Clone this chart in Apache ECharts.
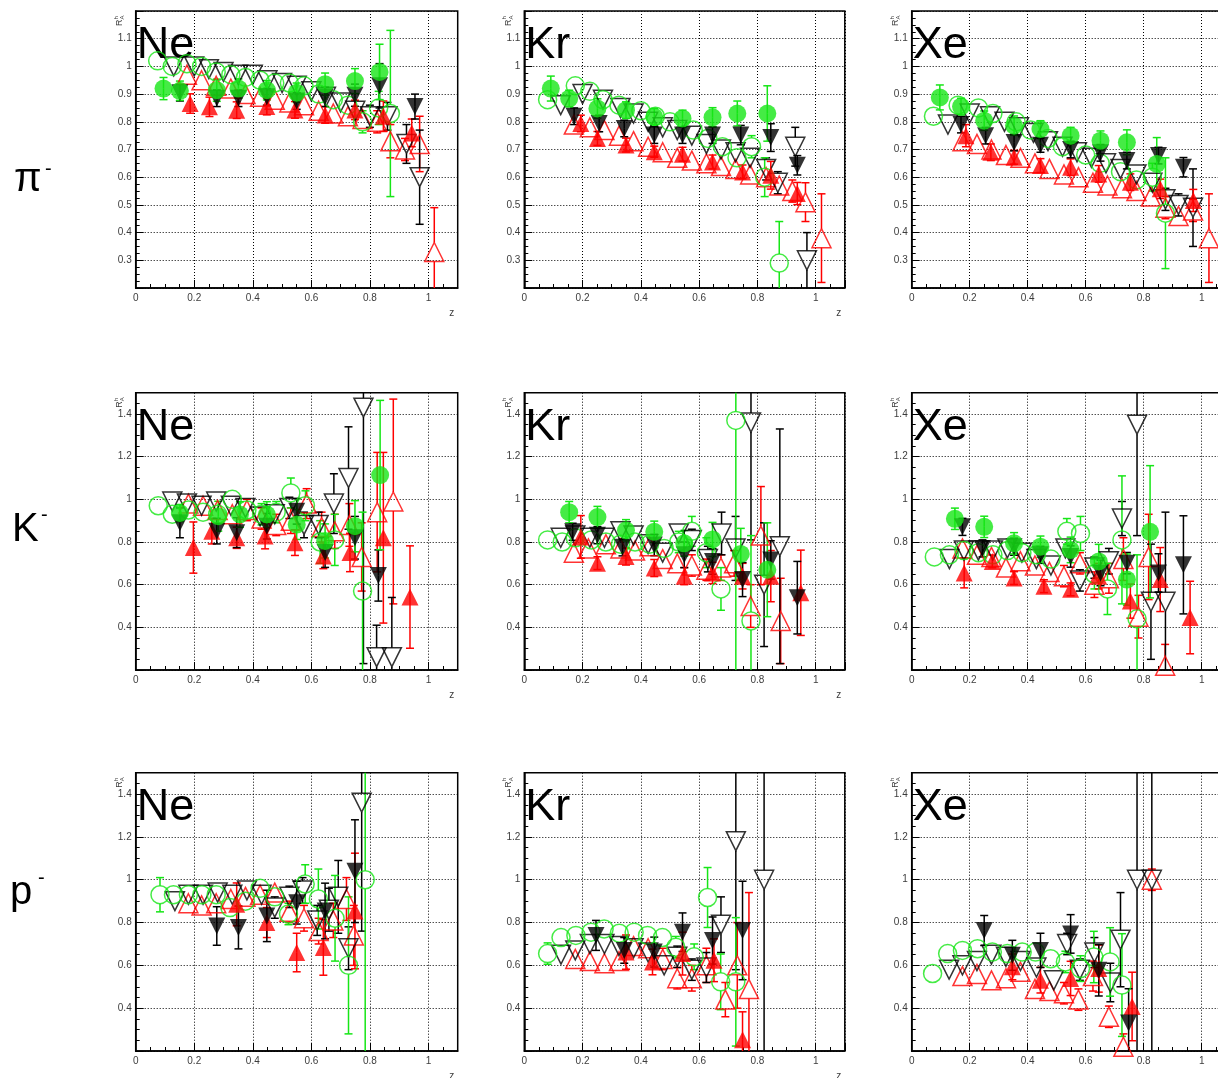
<!DOCTYPE html>
<html>
<head>
<meta charset="utf-8">
<script src="https://cdn.jsdelivr.net/npm/echarts@6/dist/echarts.min.js"></script>
<style>
  html, body { margin: 0; padding: 0; background: #fff; }
  #main { width: 1218px; height: 1078px; }
</style>
</head>
<body>
<div id="main"></div>
<script>
// Each point is [z, R, error on R].

// ---- pi-, Ne ----
const piNeGreenFilled = [[0.095,0.92,0.04],[0.151,0.912,0.035],[0.277,0.914,0.04],[0.351,0.92,0.035],[0.448,0.914,0.035],[0.55,0.905,0.035],[0.647,0.936,0.04],[0.749,0.947,0.045],[0.833,0.98,0.1]];
const piNeGreenOpen = [[0.075,1.02,0.02],[0.125,1.0,0.02],[0.175,1.01,0.02],[0.225,1.0,0.02],[0.275,0.98,0.02],[0.325,0.97,0.02],[0.375,0.96,0.02],[0.425,0.95,0.02],[0.475,0.94,0.02],[0.525,0.94,0.02],[0.575,0.93,0.02],[0.625,0.9,0.02],[0.675,0.88,0.03],[0.725,0.86,0.03],[0.775,0.8,0.04],[0.83,0.85,0.06],[0.87,0.83,0.3]];
const piNeBlackFilled = [[0.151,0.905,0.03],[0.277,0.885,0.03],[0.351,0.885,0.03],[0.448,0.89,0.03],[0.55,0.875,0.03],[0.647,0.89,0.035],[0.749,0.896,0.04],[0.833,0.93,0.08],[0.954,0.855,0.045]];
const piNeBlackOpen = [[0.13,1.0,0.02],[0.2,1.0,0.02],[0.25,0.99,0.02],[0.3,0.98,0.02],[0.35,0.97,0.02],[0.4,0.97,0.02],[0.45,0.95,0.02],[0.5,0.94,0.02],[0.55,0.93,0.02],[0.6,0.91,0.02],[0.65,0.89,0.03],[0.7,0.87,0.03],[0.75,0.84,0.03],[0.8,0.82,0.04],[0.86,0.82,0.05],[0.925,0.72,0.07],[0.97,0.6,0.17]];
const piNeRedFilled = [[0.186,0.866,0.035],[0.252,0.854,0.035],[0.345,0.842,0.03],[0.448,0.855,0.03],[0.544,0.843,0.03],[0.647,0.825,0.03],[0.749,0.843,0.035],[0.846,0.82,0.055],[0.943,0.76,0.05]];
const piNeRedOpen = [[0.175,0.97,0.03],[0.225,0.95,0.03],[0.275,0.93,0.02],[0.325,0.92,0.02],[0.375,0.9,0.02],[0.425,0.89,0.02],[0.475,0.88,0.02],[0.525,0.87,0.02],[0.575,0.86,0.02],[0.625,0.84,0.02],[0.675,0.83,0.02],[0.725,0.82,0.03],[0.775,0.81,0.03],[0.825,0.8,0.04],[0.87,0.73,0.06],[0.92,0.7,0.04],[0.97,0.72,0.1],[1.02,0.33,0.16]];

// ---- pi-, Kr ----
const piKrGreenFilled = [[0.091,0.92,0.045],[0.154,0.884,0.03],[0.251,0.848,0.035],[0.349,0.842,0.03],[0.446,0.818,0.03],[0.543,0.812,0.03],[0.646,0.816,0.035],[0.731,0.83,0.045],[0.834,0.83,0.1]];
const piKrGreenOpen = [[0.08,0.88,0.03],[0.175,0.93,0.02],[0.225,0.91,0.02],[0.27,0.88,0.02],[0.325,0.86,0.02],[0.4,0.84,0.02],[0.45,0.82,0.02],[0.5,0.8,0.02],[0.58,0.77,0.02],[0.63,0.74,0.02],[0.68,0.71,0.03],[0.73,0.67,0.03],[0.78,0.71,0.04],[0.825,0.6,0.07],[0.875,0.29,0.15]];
const piKrBlackFilled = [[0.171,0.82,0.03],[0.257,0.794,0.03],[0.343,0.776,0.03],[0.446,0.752,0.03],[0.543,0.752,0.03],[0.646,0.752,0.03],[0.743,0.752,0.035],[0.846,0.743,0.05],[0.937,0.643,0.035]];
const piKrBlackOpen = [[0.125,0.86,0.02],[0.2,0.9,0.02],[0.27,0.88,0.02],[0.33,0.85,0.02],[0.375,0.83,0.02],[0.425,0.8,0.02],[0.475,0.78,0.02],[0.525,0.77,0.02],[0.575,0.75,0.02],[0.625,0.72,0.02],[0.675,0.7,0.02],[0.725,0.69,0.03],[0.775,0.67,0.03],[0.83,0.63,0.04],[0.87,0.58,0.04],[0.93,0.71,0.07],[0.97,0.3,0.1]];
const piKrRedFilled = [[0.194,0.794,0.03],[0.251,0.74,0.025],[0.349,0.716,0.025],[0.446,0.692,0.02],[0.543,0.683,0.025],[0.646,0.655,0.025],[0.749,0.619,0.025],[0.846,0.607,0.05],[0.937,0.541,0.04]];
const piKrRedOpen = [[0.17,0.79,0.02],[0.225,0.78,0.02],[0.275,0.77,0.02],[0.325,0.75,0.02],[0.375,0.73,0.02],[0.425,0.71,0.02],[0.475,0.69,0.02],[0.525,0.67,0.02],[0.575,0.66,0.02],[0.625,0.65,0.02],[0.675,0.64,0.02],[0.725,0.63,0.02],[0.775,0.61,0.02],[0.83,0.6,0.03],[0.875,0.57,0.03],[0.92,0.55,0.04],[0.965,0.51,0.07],[1.02,0.38,0.16]];

// ---- pi-, Xe ----
const piXeGreenFilled = [[0.097,0.888,0.045],[0.17,0.855,0.03],[0.25,0.804,0.035],[0.353,0.786,0.035],[0.444,0.774,0.03],[0.548,0.75,0.03],[0.651,0.732,0.035],[0.742,0.726,0.045],[0.845,0.648,0.095]];
const piXeGreenOpen = [[0.075,0.82,0.02],[0.16,0.86,0.02],[0.23,0.85,0.02],[0.28,0.83,0.02],[0.36,0.8,0.02],[0.41,0.77,0.02],[0.47,0.74,0.02],[0.52,0.71,0.02],[0.6,0.68,0.02],[0.65,0.65,0.02],[0.72,0.62,0.03],[0.775,0.59,0.03],[0.83,0.6,0.05],[0.875,0.47,0.2]];
const piXeBlackFilled = [[0.17,0.79,0.03],[0.255,0.75,0.03],[0.353,0.725,0.03],[0.444,0.715,0.025],[0.548,0.7,0.03],[0.651,0.688,0.03],[0.742,0.66,0.03],[0.851,0.678,0.03],[0.937,0.636,0.035]];
const piXeBlackOpen = [[0.125,0.79,0.02],[0.2,0.83,0.02],[0.27,0.82,0.02],[0.32,0.8,0.02],[0.37,0.78,0.02],[0.42,0.76,0.02],[0.47,0.73,0.02],[0.52,0.71,0.02],[0.57,0.69,0.02],[0.62,0.67,0.02],[0.67,0.65,0.02],[0.72,0.63,0.02],[0.775,0.61,0.02],[0.83,0.58,0.03],[0.875,0.52,0.04],[0.92,0.5,0.04],[0.97,0.49,0.14]];
const piXeRedFilled = [[0.187,0.75,0.04],[0.273,0.69,0.03],[0.353,0.672,0.025],[0.444,0.642,0.025],[0.548,0.636,0.03],[0.645,0.612,0.03],[0.754,0.582,0.03],[0.857,0.558,0.035],[0.971,0.516,0.04]];
const piXeRedOpen = [[0.175,0.73,0.02],[0.225,0.72,0.02],[0.275,0.7,0.02],[0.325,0.68,0.02],[0.375,0.67,0.02],[0.425,0.65,0.02],[0.475,0.63,0.02],[0.525,0.61,0.02],[0.575,0.6,0.02],[0.625,0.58,0.02],[0.675,0.57,0.02],[0.725,0.56,0.02],[0.775,0.55,0.02],[0.825,0.53,0.03],[0.875,0.49,0.04],[0.92,0.46,0.03],[0.97,0.48,0.04],[1.025,0.38,0.16]];

// ---- K-, Ne ----
const kNeGreenFilled = [[0.151,0.936,0.04],[0.282,0.921,0.07],[0.356,0.929,0.06],[0.448,0.929,0.06],[0.55,0.882,0.07],[0.647,0.805,0.08],[0.749,0.874,0.12],[0.835,1.114,0.35]];
const kNeGreenOpen = [[0.077,0.97,0.03],[0.125,0.93,0.03],[0.18,0.95,0.03],[0.23,0.94,0.03],[0.28,0.93,0.03],[0.33,1.0,0.04],[0.38,0.95,0.04],[0.43,0.93,0.05],[0.48,0.94,0.05],[0.53,1.03,0.07],[0.58,0.97,0.07],[0.63,0.8,0.1],[0.68,0.81,0.12],[0.775,0.57,0.37]];
const kNeBlackFilled = [[0.151,0.89,0.07],[0.277,0.851,0.06],[0.345,0.844,0.07],[0.448,0.874,0.06],[0.55,0.944,0.06],[0.647,0.751,0.07],[0.749,0.82,0.1],[0.829,0.643,0.12]];
const kNeBlackOpen = [[0.125,0.99,0.02],[0.175,0.98,0.02],[0.225,0.97,0.02],[0.275,0.99,0.03],[0.325,0.97,0.03],[0.375,0.96,0.03],[0.425,0.92,0.04],[0.475,0.93,0.04],[0.525,0.96,0.05],[0.575,0.88,0.06],[0.625,0.88,0.06],[0.677,0.98,0.14],[0.727,1.1,0.24],[0.778,1.43,1.2],[0.823,0.26,0.15],[0.875,0.26,0.28]];
const kNeRedFilled = [[0.197,0.774,0.12],[0.26,0.851,0.06],[0.345,0.82,0.05],[0.442,0.828,0.06],[0.544,0.797,0.06],[0.641,0.735,0.06],[0.732,0.751,0.09],[0.846,0.82,0.4],[0.937,0.542,0.24]];
const kNeRedOpen = [[0.18,0.98,0.04],[0.23,0.97,0.04],[0.28,0.95,0.04],[0.33,0.93,0.04],[0.38,0.95,0.05],[0.43,0.91,0.05],[0.48,0.88,0.05],[0.53,0.9,0.06],[0.584,0.98,0.07],[0.635,0.87,0.07],[0.68,0.85,0.08],[0.73,0.88,0.1],[0.772,0.73,0.16],[0.825,0.94,0.28],[0.88,0.99,0.48]];

// ---- K-, Kr ----
const kKrGreenFilled = [[0.154,0.94,0.05],[0.251,0.917,0.05],[0.349,0.855,0.05],[0.446,0.848,0.05],[0.549,0.794,0.06],[0.646,0.812,0.08],[0.743,0.744,0.12],[0.834,0.67,0.22]];
const kKrGreenOpen = [[0.08,0.81,0.02],[0.13,0.8,0.02],[0.175,0.82,0.03],[0.23,0.81,0.03],[0.28,0.8,0.03],[0.33,0.79,0.03],[0.38,0.8,0.03],[0.43,0.79,0.04],[0.48,0.77,0.04],[0.53,0.8,0.05],[0.575,0.85,0.07],[0.625,0.75,0.07],[0.675,0.58,0.1],[0.726,1.37,1.2],[0.778,0.43,0.4]];
const kKrBlackFilled = [[0.166,0.848,0.04],[0.251,0.832,0.04],[0.337,0.775,0.04],[0.446,0.786,0.05],[0.549,0.74,0.06],[0.646,0.709,0.06],[0.749,0.624,0.08],[0.846,0.716,0.09],[0.937,0.539,0.17]];
const kKrBlackOpen = [[0.125,0.82,0.02],[0.175,0.83,0.02],[0.225,0.82,0.02],[0.275,0.82,0.03],[0.33,0.85,0.03],[0.375,0.83,0.03],[0.425,0.79,0.03],[0.475,0.75,0.04],[0.53,0.84,0.04],[0.575,0.81,0.05],[0.63,0.72,0.06],[0.677,0.84,0.1],[0.725,0.77,0.15],[0.778,1.36,0.55],[0.823,0.6,0.29],[0.877,0.78,0.55]];
const kKrRedFilled = [[0.194,0.824,0.1],[0.251,0.701,0.03],[0.349,0.732,0.04],[0.446,0.678,0.04],[0.549,0.64,0.04],[0.646,0.655,0.05],[0.749,0.64,0.06],[0.846,0.64,0.12],[0.949,0.562,0.2]];
const kKrRedOpen = [[0.17,0.75,0.03],[0.22,0.77,0.03],[0.28,0.79,0.03],[0.33,0.77,0.03],[0.38,0.76,0.03],[0.43,0.78,0.03],[0.475,0.72,0.04],[0.525,0.7,0.04],[0.575,0.69,0.05],[0.625,0.67,0.05],[0.675,0.68,0.06],[0.72,0.7,0.06],[0.777,0.5,0.1],[0.812,0.83,0.23],[0.88,0.43,0.2]];

// ---- K-, Xe ----
const kXeGreenFilled = [[0.149,0.909,0.05],[0.25,0.871,0.05],[0.353,0.794,0.05],[0.444,0.778,0.05],[0.548,0.763,0.06],[0.645,0.709,0.08],[0.742,0.624,0.12],[0.822,0.848,0.31]];
const kXeGreenOpen = [[0.078,0.73,0.02],[0.13,0.74,0.02],[0.18,0.76,0.03],[0.23,0.75,0.03],[0.28,0.74,0.03],[0.33,0.76,0.03],[0.38,0.75,0.03],[0.43,0.74,0.04],[0.48,0.72,0.04],[0.535,0.85,0.06],[0.582,0.84,0.08],[0.63,0.65,0.07],[0.675,0.58,0.12],[0.725,0.81,0.3],[0.777,0.44,0.3]];
const kXeBlackFilled = [[0.175,0.871,0.04],[0.244,0.77,0.04],[0.353,0.778,0.04],[0.444,0.74,0.04],[0.548,0.732,0.05],[0.651,0.655,0.06],[0.742,0.701,0.05],[0.851,0.655,0.09],[0.937,0.693,0.23]];
const kXeBlackOpen = [[0.13,0.72,0.02],[0.18,0.76,0.02],[0.23,0.76,0.03],[0.28,0.76,0.03],[0.33,0.77,0.03],[0.38,0.75,0.03],[0.43,0.72,0.03],[0.48,0.69,0.04],[0.53,0.77,0.04],[0.58,0.62,0.05],[0.63,0.68,0.05],[0.68,0.71,0.06],[0.725,0.91,0.08],[0.777,1.35,0.52],[0.825,0.52,0.27],[0.875,0.52,0.42]];
const kXeRedFilled = [[0.181,0.655,0.07],[0.278,0.709,0.03],[0.353,0.631,0.03],[0.456,0.593,0.03],[0.548,0.578,0.03],[0.645,0.64,0.06],[0.754,0.523,0.08],[0.857,0.624,0.15],[0.96,0.446,0.17]];
const kXeRedOpen = [[0.175,0.77,0.03],[0.225,0.74,0.03],[0.275,0.73,0.03],[0.325,0.68,0.03],[0.375,0.71,0.04],[0.425,0.69,0.04],[0.475,0.66,0.04],[0.525,0.64,0.05],[0.58,0.7,0.05],[0.63,0.6,0.06],[0.68,0.63,0.07],[0.73,0.72,0.1],[0.782,0.45,0.1],[0.817,0.73,0.2],[0.874,0.22,0.1]];

// ---- p-, Ne ----
const pNeGreenOpen = [[0.083,0.93,0.08],[0.129,0.93,0.03],[0.18,0.93,0.03],[0.226,0.93,0.03],[0.275,0.93,0.03],[0.322,0.87,0.03],[0.375,0.9,0.04],[0.425,0.96,0.04],[0.475,0.92,0.04],[0.522,0.84,0.05],[0.579,0.98,0.09],[0.624,0.91,0.14],[0.681,0.82,0.2],[0.727,0.6,0.32],[0.784,1.0,1.0]];
const pNeBlackFilled = [[0.277,0.784,0.09],[0.351,0.777,0.1],[0.448,0.831,0.12],[0.55,0.893,0.1],[0.647,0.854,0.13],[0.749,1.04,0.24]];
const pNeBlackOpen = [[0.134,0.9,0.03],[0.18,0.93,0.03],[0.23,0.93,0.03],[0.28,0.94,0.03],[0.33,0.93,0.04],[0.38,0.95,0.04],[0.43,0.93,0.04],[0.475,0.87,0.05],[0.525,0.92,0.05],[0.57,0.95,0.06],[0.62,0.81,0.07],[0.66,0.86,0.1],[0.692,0.92,0.17],[0.727,0.68,0.1],[0.772,1.36,0.6]];
const pNeRedFilled = [[0.345,0.885,0.1],[0.448,0.8,0.07],[0.55,0.66,0.09],[0.641,0.684,0.13],[0.749,0.854,0.27]];
const pNeRedOpen = [[0.18,0.89,0.04],[0.225,0.88,0.03],[0.275,0.89,0.03],[0.325,0.91,0.03],[0.375,0.92,0.04],[0.425,0.93,0.04],[0.475,0.94,0.04],[0.525,0.85,0.05],[0.575,0.82,0.06],[0.625,0.76,0.06],[0.675,0.81,0.08],[0.72,0.91,0.1],[0.745,0.74,0.14]];

// ---- p-, Kr ----
const pKrGreenOpen = [[0.08,0.655,0.05],[0.126,0.73,0.03],[0.177,0.74,0.03],[0.229,0.755,0.03],[0.274,0.77,0.03],[0.326,0.75,0.03],[0.377,0.755,0.03],[0.423,0.74,0.04],[0.474,0.73,0.04],[0.52,0.685,0.05],[0.583,0.64,0.06],[0.629,0.917,0.14],[0.674,0.523,0.13],[0.726,0.523,0.3]];
const pKrBlackFilled = [[0.246,0.74,0.07],[0.343,0.67,0.06],[0.446,0.662,0.07],[0.543,0.755,0.09],[0.646,0.716,0.11],[0.749,0.763,0.23]];
const pKrBlackOpen = [[0.126,0.65,0.02],[0.175,0.67,0.03],[0.225,0.7,0.03],[0.275,0.7,0.03],[0.325,0.69,0.03],[0.375,0.68,0.03],[0.425,0.66,0.04],[0.48,0.6,0.04],[0.525,0.64,0.05],[0.575,0.58,0.05],[0.625,0.59,0.07],[0.675,0.79,0.13],[0.726,1.18,0.6],[0.823,1.0,0.9]];
const pKrRedFilled = [[0.349,0.662,0.08],[0.44,0.616,0.06],[0.543,0.655,0.1],[0.651,0.624,0.1],[0.749,0.253,0.13]];
const pKrRedOpen = [[0.175,0.63,0.03],[0.225,0.62,0.03],[0.275,0.61,0.03],[0.325,0.62,0.03],[0.375,0.69,0.04],[0.425,0.68,0.04],[0.475,0.63,0.05],[0.525,0.54,0.05],[0.575,0.54,0.06],[0.625,0.6,0.08],[0.69,0.44,0.08],[0.731,0.6,0.2],[0.771,0.49,0.45]];

// ---- p-, Xe ----
const pXeGreenOpen = [[0.072,0.562,0.04],[0.124,0.655,0.03],[0.175,0.67,0.03],[0.227,0.678,0.03],[0.278,0.662,0.03],[0.33,0.655,0.03],[0.381,0.662,0.03],[0.427,0.662,0.04],[0.479,0.631,0.04],[0.53,0.616,0.05],[0.582,0.585,0.06],[0.628,0.639,0.12],[0.684,0.616,0.16],[0.725,0.508,0.24]];
const pXeBlackFilled = [[0.25,0.763,0.07],[0.347,0.647,0.07],[0.444,0.67,0.08],[0.548,0.747,0.09],[0.645,0.577,0.12],[0.748,0.331,0.16]];
const pXeBlackOpen = [[0.129,0.58,0.02],[0.175,0.6,0.03],[0.225,0.62,0.03],[0.275,0.65,0.03],[0.325,0.64,0.03],[0.375,0.62,0.03],[0.43,0.59,0.04],[0.49,0.53,0.04],[0.536,0.7,0.05],[0.58,0.58,0.05],[0.63,0.66,0.07],[0.685,0.52,0.09],[0.72,0.72,0.22],[0.777,1.0,1.0],[0.828,1.0,1.0]];
const pXeRedFilled = [[0.347,0.593,0.06],[0.444,0.531,0.06],[0.548,0.539,0.08],[0.645,0.585,0.11],[0.76,0.408,0.16]];
const pXeRedOpen = [[0.175,0.55,0.03],[0.225,0.56,0.03],[0.275,0.53,0.03],[0.325,0.54,0.03],[0.375,0.57,0.04],[0.425,0.49,0.04],[0.475,0.48,0.04],[0.525,0.47,0.05],[0.575,0.44,0.05],[0.625,0.55,0.07],[0.68,0.36,0.05],[0.73,0.22,0.06],[0.828,1.0,0.05]];

// Panel titles, row titles and axis ranges
const targetNames = ['Ne', 'Kr', 'Xe'];
const hadronNames = ['π', 'K', 'p'];
const rowRanges = [
  { min: 0.2, max: 1.2, interval: 0.1 },
  { min: 0.2, max: 1.5, interval: 0.2 },
  { min: 0.2, max: 1.5, interval: 0.2 }
];
const zRange = { min: 0, max: 1.1, interval: 0.2 };

const panelSets = [
  { greenFilled: piNeGreenFilled, greenOpen: piNeGreenOpen, blackFilled: piNeBlackFilled, blackOpen: piNeBlackOpen, redFilled: piNeRedFilled, redOpen: piNeRedOpen },
  { greenFilled: piKrGreenFilled, greenOpen: piKrGreenOpen, blackFilled: piKrBlackFilled, blackOpen: piKrBlackOpen, redFilled: piKrRedFilled, redOpen: piKrRedOpen },
  { greenFilled: piXeGreenFilled, greenOpen: piXeGreenOpen, blackFilled: piXeBlackFilled, blackOpen: piXeBlackOpen, redFilled: piXeRedFilled, redOpen: piXeRedOpen },
  { greenFilled: kNeGreenFilled, greenOpen: kNeGreenOpen, blackFilled: kNeBlackFilled, blackOpen: kNeBlackOpen, redFilled: kNeRedFilled, redOpen: kNeRedOpen },
  { greenFilled: kKrGreenFilled, greenOpen: kKrGreenOpen, blackFilled: kKrBlackFilled, blackOpen: kKrBlackOpen, redFilled: kKrRedFilled, redOpen: kKrRedOpen },
  { greenFilled: kXeGreenFilled, greenOpen: kXeGreenOpen, blackFilled: kXeBlackFilled, blackOpen: kXeBlackOpen, redFilled: kXeRedFilled, redOpen: kXeRedOpen },
  { greenOpen: pNeGreenOpen, blackFilled: pNeBlackFilled, blackOpen: pNeBlackOpen, redFilled: pNeRedFilled, redOpen: pNeRedOpen },
  { greenOpen: pKrGreenOpen, blackFilled: pKrBlackFilled, blackOpen: pKrBlackOpen, redFilled: pKrRedFilled, redOpen: pKrRedOpen },
  { greenOpen: pXeGreenOpen, blackFilled: pXeBlackFilled, blackOpen: pXeBlackOpen, redFilled: pXeRedFilled, redOpen: pXeRedOpen }
];

// ---- styling ----
const GREEN = '#16e616';
const RED = '#ff0000';
const BLACK = '#000000';
const FONT = '"Liberation Sans", Arial, Helvetica, sans-serif';
const LABEL_COLOR = '#3c3c3c';

// drawing order: open markers underneath, filled ones on top
const markerKinds = [
  { key: 'redOpen',     symbol: 'triangle', rotate: 0,   color: RED,   filled: false, size: 19 },
  { key: 'blackOpen',   symbol: 'triangle', rotate: 180, color: BLACK, filled: false, size: 19 },
  { key: 'greenOpen',   symbol: 'circle',   rotate: 0,   color: GREEN, filled: false, size: 18 },
  { key: 'redFilled',   symbol: 'triangle', rotate: 0,   color: RED,   filled: true,  size: 17 },
  { key: 'blackFilled', symbol: 'triangle', rotate: 180, color: BLACK, filled: true,  size: 17 },
  { key: 'greenFilled', symbol: 'circle',   rotate: 0,   color: GREEN, filled: true,  size: 18 }
];

// frame geometry of the 3x3 pads
const colLeft = [135.7, 524.3, 911.7];
const colWidth = [322, 320.5, 319];
const rowTop = [11, 392.7, 772.7];
const rowHeight = [277, 277.3, 278.3];

const grids = [], xAxes = [], yAxes = [], series = [], graphics = [];

function errorBarSeries(idx, data, kind, yr) {
  const gap = kind.filled ? 0 : kind.size / 2;
  return {
    type: 'custom',
    xAxisIndex: idx,
    yAxisIndex: idx,
    silent: true,
    animation: false,
    encode: { x: 0, y: 1 },
    data: data,
    renderItem: function (params, api) {
      const x = api.value(0), y = api.value(1), e = api.value(2);
      const lo = Math.max(y - e, yr.min);
      const hi = Math.min(y + e, yr.max);
      const c = api.coord([x, y]);
      const pLo = api.coord([x, lo]);
      const pHi = api.coord([x, hi]);
      const style = { stroke: kind.color, lineWidth: 1.5 };
      const children = [];
      if (pHi[1] < c[1] - gap) {
        children.push({ type: 'line', shape: { x1: c[0], y1: c[1] - gap, x2: c[0], y2: pHi[1] }, style: style });
        if (y + e < yr.max) children.push({ type: 'line', shape: { x1: c[0] - 4, y1: pHi[1], x2: c[0] + 4, y2: pHi[1] }, style: style });
      }
      if (pLo[1] > c[1] + gap) {
        children.push({ type: 'line', shape: { x1: c[0], y1: c[1] + gap, x2: c[0], y2: pLo[1] }, style: style });
        if (y - e > yr.min) children.push({ type: 'line', shape: { x1: c[0] - 4, y1: pLo[1], x2: c[0] + 4, y2: pLo[1] }, style: style });
      }
      return { type: 'group', children: children };
    }
  };
}

panelSets.forEach(function (sets, idx) {
  const row = Math.floor(idx / 3), col = idx % 3;
  const yr = rowRanges[row];
  grids.push({
    left: colLeft[col], top: rowTop[row], width: colWidth[col], height: rowHeight[row],
    show: true, borderColor: '#000', borderWidth: 1.5, backgroundColor: 'rgba(0,0,0,0)',
    containLabel: false, outerBoundsMode: 'none'
  });
  xAxes.push({
    gridIndex: idx, type: 'value', min: zRange.min, max: zRange.max, interval: zRange.interval,
    axisLine: { show: true, onZero: false, lineStyle: { color: '#000', width: 1.5 } },
    axisTick: { show: true, inside: true, length: 8, lineStyle: { color: '#000', width: 1 } },
    minorTick: { show: true, splitNumber: 4, length: 4, lineStyle: { color: '#000', width: 1 } },
    axisLabel: { show: true, margin: 5, fontSize: 10, color: LABEL_COLOR, fontFamily: FONT, showMaxLabel: false },
    splitLine: { show: true, lineStyle: { color: '#000', width: 1, type: [1, 2] } },
    minorSplitLine: { show: false }
  });
  yAxes.push({
    gridIndex: idx, type: 'value', min: yr.min, max: yr.max, interval: yr.interval,
    axisLine: { show: true, onZero: false, lineStyle: { color: '#000', width: 1.5 } },
    axisTick: { show: true, inside: true, length: 8, lineStyle: { color: '#000', width: 1 } },
    minorTick: { show: true, splitNumber: 4, length: 4, lineStyle: { color: '#000', width: 1 } },
    axisLabel: { show: true, margin: 4, fontSize: 10, color: LABEL_COLOR, fontFamily: FONT, showMinLabel: false, showMaxLabel: false },
    splitLine: { show: true, lineStyle: { color: '#000', width: 1, type: [1, 2] } },
    minorSplitLine: { show: false }
  });

  markerKinds.forEach(function (kind) {
    const data = sets[kind.key];
    if (!data) return;
    series.push(errorBarSeries(idx, data, kind, yr));
    series.push({
      type: 'scatter',
      xAxisIndex: idx,
      yAxisIndex: idx,
      silent: true,
      animation: false,
      clip: false,
      symbol: kind.symbol,
      symbolSize: kind.size,
      symbolRotate: kind.rotate,
      data: data.map(function (d) { return [d[0], d[1]]; }),
      itemStyle: kind.filled
        ? { color: kind.color, borderWidth: 0 }
        : { color: 'rgba(0,0,0,0)', borderColor: kind.color, borderWidth: 1.5 }
    });
  });

  const left = colLeft[col], top = rowTop[row];
  // target nucleus name
  graphics.push({
    type: 'text', x: left + 1, y: top + 35, silent: true,
    style: { text: targetNames[col], font: '45px ' + FONT, fill: '#000', textAlign: 'left', textVerticalAlign: 'middle' }
  });
  // y-axis title R_A^h
  graphics.push({
    type: 'group', x: left - 16, y: top + 15, rotation: Math.PI / 2, silent: true,
    children: [
      { type: 'text', x: 0, y: 0, style: { text: 'R', font: '9px ' + FONT, fill: LABEL_COLOR, textAlign: 'left', textVerticalAlign: 'middle' } },
      { type: 'text', x: 6.5, y: -3.5, style: { text: 'h', font: '6px ' + FONT, fill: LABEL_COLOR, textAlign: 'left', textVerticalAlign: 'middle' } },
      { type: 'text', x: 6.5, y: 3, style: { text: 'A', font: '6px ' + FONT, fill: LABEL_COLOR, textAlign: 'left', textVerticalAlign: 'middle' } }
    ]
  });
  // x-axis title
  graphics.push({
    type: 'text', x: left + colWidth[col] - 6, y: top + rowHeight[row] + 25, silent: true,
    style: { text: 'z', font: '10px ' + FONT, fill: LABEL_COLOR, textAlign: 'center', textVerticalAlign: 'middle' }
  });
});

// hadron names in front of each row
const rowLabelPos = [
  { x: 14, y: 180, sx: 45, sy: 169 },
  { x: 12, y: 530, sx: 41, sy: 515 },
  { x: 10, y: 893, sx: 38, sy: 878 }
];
hadronNames.forEach(function (name, r) {
  const p = rowLabelPos[r];
  graphics.push({
    type: 'text', x: p.x, y: p.y, silent: true,
    style: { text: name, font: '40px ' + FONT, fill: '#000', textAlign: 'left', textVerticalAlign: 'middle' }
  });
  graphics.push({
    type: 'text', x: p.sx, y: p.sy, silent: true,
    style: { text: '-', font: '20px ' + FONT, fill: '#000', textAlign: 'left', textVerticalAlign: 'middle' }
  });
});

const chart = echarts.init(document.getElementById('main'), null, { renderer: 'canvas' });
chart.setOption({
  animation: false,
  backgroundColor: '#ffffff',
  grid: grids,
  xAxis: xAxes,
  yAxis: yAxes,
  series: series,
  graphic: { elements: graphics }
});
</script>
</body>
</html>
